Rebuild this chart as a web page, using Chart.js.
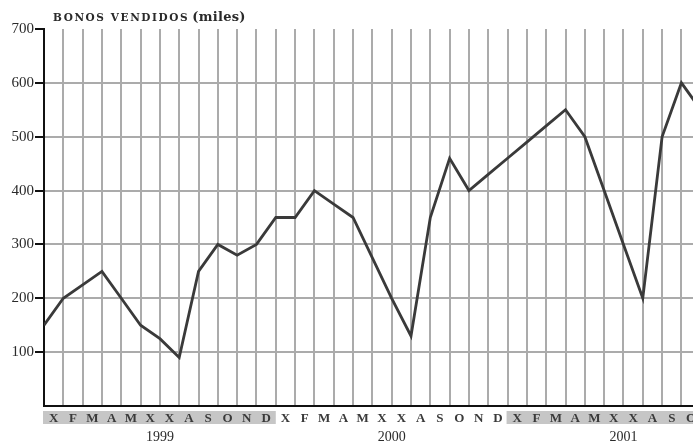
<!DOCTYPE html>
<html>
<head>
<meta charset="utf-8">
<script src="https://cdn.jsdelivr.net/npm/chart.js@4"></script>
<style>
  html, body { margin: 0; padding: 0; background: #fff; overflow: hidden; }
  #wrap { width: 693px; height: 448px; }
</style>
</head>
<body>
<div id="wrap"><canvas id="c" width="693" height="448"></canvas></div>
<script>
// Galician month initials (xaneiro ... decembro), one per month cell
const monthLetters = ['X', 'F', 'M', 'A', 'M', 'X', 'X', 'A', 'S', 'O', 'N', 'D'];
const years = ['1999', '2000', '2001'];
const shadedYears = ['1999', '2001'];
// Bonds sold (thousands), one value per month starting January 1999
const bonos = [
  150, 200, 225, 250, 200, 150, 125, 90, 250, 300, 280, 300,
  350, 350, 400, 375, 350, 275, 200, 130, 350, 460, 400, 430,
  460, 490, 520, 550, 500, 400, 300, 200, 500, 600, 550
];
const yTickValues = [100, 200, 300, 400, 500, 600, 700];

const X_MAX = 33.6;          // visible months span (last cell is cut at the edge)
const SERIF = "'Liberation Serif', 'Times New Roman', serif";

// Grey label bands under 1999 and 2001, plus the small-caps heading
const decor = {
  id: 'decor',
  beforeDraw(chart) {
    const { ctx, chartArea } = chart;
    const xs = chart.scales.x;
    ctx.save();
    ctx.fillStyle = '#c6c6c6';
    shadedYears.forEach(y => {
      const i = years.indexOf(y);
      const x0 = xs.getPixelForValue(i * 12);
      const x1 = Math.min(xs.getPixelForValue((i + 1) * 12), chart.width);
      ctx.fillRect(x0 - 1, xs.top + 5, x1 - x0 + 1, 13);
    });

    ctx.fillStyle = '#2a2a2a';
    ctx.textBaseline = 'alphabetic';
    ctx.textAlign = 'left';
    ctx.font = "bold 10.5px 'DejaVu Serif'";
    ctx.letterSpacing = '1.6px';
    let x = chartArea.left + 9;
    const head = 'BONOS VENDIDOS';
    ctx.fillText(head, x, 21);
    x += ctx.measureText(head).width + 3;
    ctx.letterSpacing = '0.3px';
    ctx.font = "bold 13px 'DejaVu Serif'";
    ctx.fillText('(miles)', x, 21);
    ctx.restore();
  }
};

new Chart(document.getElementById('c'), {
  type: 'line',
  data: {
    datasets: [{
      data: bonos.map((v, i) => ({ x: i, y: v })),
      borderColor: '#3a3a3a',
      borderWidth: 2.8,
      pointRadius: 0,
      tension: 0,
      fill: false
    }]
  },
  options: {
    responsive: false,
    animation: false,
    devicePixelRatio: 1,
    layout: { padding: { top: 29, left: 0, right: 0, bottom: 0 } },
    plugins: {
      legend: { display: false },
      tooltip: { enabled: false },
      title: { display: false }
    },
    scales: {
      x: {
        type: 'linear',
        position: 'bottom',
        weight: 1,
        min: 0,
        max: X_MAX,
        afterBuildTicks(scale) {
          const t = [];
          for (let i = 0; i <= Math.floor(X_MAX); i++) t.push({ value: i });
          scale.ticks = t;
        },
        afterFit(scale) {
          scale.height = 20;
          scale.paddingLeft = 0;
          scale.paddingRight = 0;
        },
        grid: {
          color: '#ababab',
          lineWidth: 2,
          drawTicks: false
        },
        border: { color: '#111', width: 2 },
        ticks: {
          autoSkip: false,
          maxRotation: 0,
          padding: 5,
          labelOffset: 9.66,
          color: '#3a3a3a',
          font: { family: SERIF, size: 13, weight: 'bold' },
          callback: v => monthLetters[v % 12]
        }
      },
      years: {
        type: 'linear',
        position: 'bottom',
        axis: 'x',
        weight: 2,
        min: 0,
        max: X_MAX,
        afterBuildTicks(scale) {
          scale.ticks = years.map((y, i) => ({ value: i * 12 + 6 }));
        },
        afterFit(scale) {
          scale.height = 22;
          scale.paddingLeft = 0;
          scale.paddingRight = 0;
        },
        grid: { display: false, drawTicks: false },
        border: { display: false },
        ticks: {
          autoSkip: false,
          maxRotation: 0,
          padding: 3,
          color: '#2a2a2a',
          font: { family: SERIF, size: 14 },
          callback: v => years[Math.round((v - 6) / 12)]
        }
      },
      y: {
        min: 0,
        max: 700,
        afterBuildTicks(scale) {
          scale.ticks = yTickValues.map(v => ({ value: v }));
        },
        afterFit(scale) { scale.width = 44; },
        grid: {
          color: ctx => (ctx.tick && ctx.tick.value === 700) ? 'rgba(0,0,0,0)' : '#ababab',
          lineWidth: 2,
          tickLength: 9,
          tickColor: '#111',
          tickWidth: 2
        },
        border: { color: '#111', width: 2 },
        ticks: {
          padding: 1,
          color: '#2a2a2a',
          font: { family: SERIF, size: 15 }
        }
      }
    }
  },
  plugins: [decor]
});
</script>
</body>
</html>
